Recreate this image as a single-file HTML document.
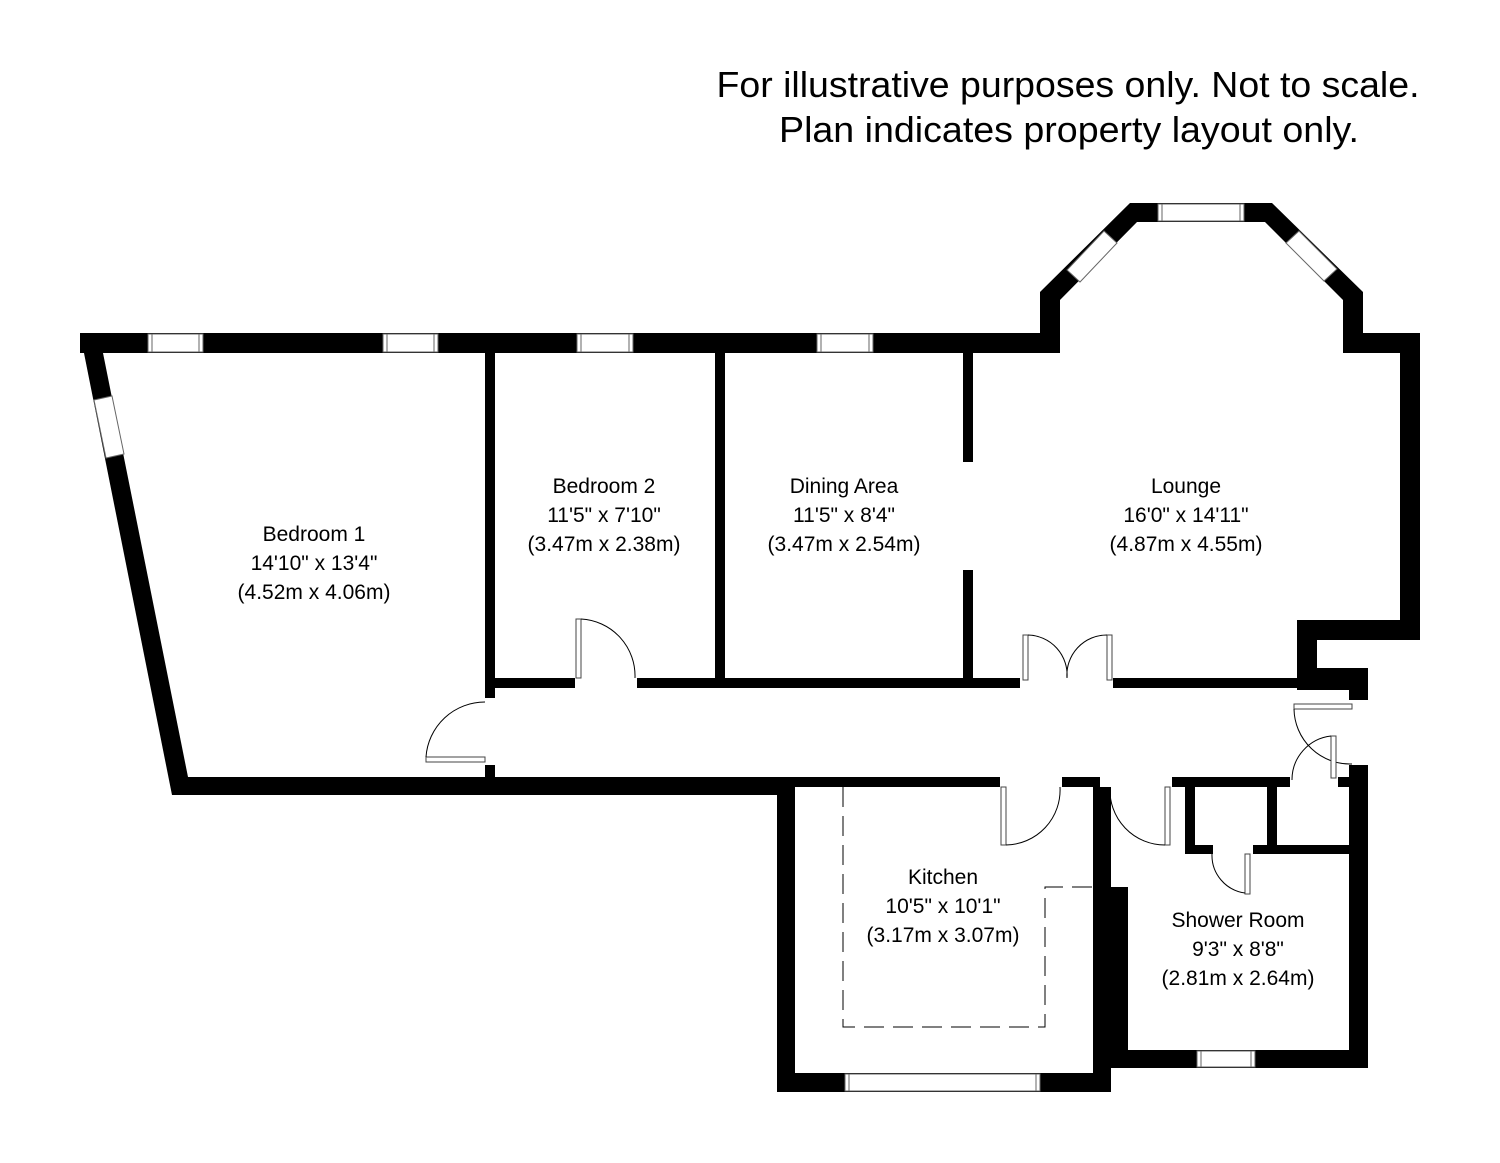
<!DOCTYPE html>
<html><head><meta charset="utf-8"><style>html,body{margin:0;padding:0;background:#fff}svg{display:block}</style></head>
<body>
<svg width="1500" height="1163" viewBox="0 0 1500 1163" xmlns="http://www.w3.org/2000/svg" font-family="Liberation Sans, Arial, sans-serif">
<rect width="1500" height="1163" fill="#fff"/>
<text x="1068" y="97" font-size="36" text-anchor="middle" textLength="703" lengthAdjust="spacingAndGlyphs">For illustrative purposes only. Not to scale.</text>
<text x="1069" y="142" font-size="36" text-anchor="middle" textLength="580" lengthAdjust="spacingAndGlyphs">Plan indicates property layout only.</text>
<g fill="#000">
<rect x="80" y="333" width="980" height="20"/>
<polygon points="80,333 103,353 188,777 172,795"/>
<polygon points="80,333 103,333 103,353"/>
<rect x="172" y="777" width="623" height="18"/>
<rect x="777" y="777" width="18" height="315"/>
<rect x="777" y="1073" width="334" height="19"/>
<rect x="1093" y="787" width="18" height="305"/>
<rect x="1100" y="887" width="28" height="163"/>
<rect x="1110" y="1050" width="255" height="18"/>
<rect x="1349" y="765" width="19" height="303"/>
<rect x="795" y="777" width="205" height="10"/>
<rect x="1062" y="777" width="38" height="10"/>
<rect x="1172" y="777" width="118" height="10"/>
<rect x="1338" y="777" width="30" height="10"/>
<rect x="1185" y="787" width="10" height="66"/>
<rect x="1267" y="787" width="10" height="60"/>
<rect x="1185" y="845" width="28" height="9"/>
<rect x="1253" y="845" width="97" height="9"/>
<rect x="485" y="353" width="10" height="345"/>
<rect x="485" y="765" width="10" height="12"/>
<rect x="715" y="353" width="10" height="325"/>
<rect x="963" y="353" width="10" height="109"/>
<rect x="963" y="570" width="10" height="108"/>
<rect x="495" y="678" width="80" height="10"/>
<rect x="637" y="678" width="383" height="10"/>
<rect x="1113" y="678" width="187" height="10"/>
<polygon points="1040,353 1040,292 1130,203 1272,203 1363,292 1363,333 1420,333 1420,640 1317,640 1317,668 1368,668 1368,700 1349,700 1349,690 1297,690 1297,620 1400,620 1400,353 1343,353 1343,300 1265,222 1137,222 1060,300 1060,353"/>
</g>
<g fill="#fff" stroke="#666" stroke-width="1">
<rect x="148" y="334" width="55" height="18"/><line x1="152" y1="334" x2="152" y2="352"/><line x1="199" y1="334" x2="199" y2="352"/>
<rect x="383" y="334" width="55" height="18"/><line x1="387" y1="334" x2="387" y2="352"/><line x1="434" y1="334" x2="434" y2="352"/>
<rect x="577" y="334" width="56" height="18"/><line x1="581" y1="334" x2="581" y2="352"/><line x1="629" y1="334" x2="629" y2="352"/>
<rect x="817" y="334" width="56" height="18"/><line x1="821" y1="334" x2="821" y2="352"/><line x1="869" y1="334" x2="869" y2="352"/>
<rect x="1158" y="204" width="86" height="17"/><line x1="1162" y1="204" x2="1162" y2="221"/><line x1="1240" y1="204" x2="1240" y2="221"/>
<polygon points="94,400 112,396 124,454 106,458"/>
<polygon points="1067,270 1104,231 1117,243 1080,282"/>
<polygon points="1286,243 1299,231 1337,269 1324,281"/>
<rect x="845" y="1074" width="195" height="17"/><line x1="849" y1="1074" x2="849" y2="1091"/><line x1="1036" y1="1074" x2="1036" y2="1091"/>
<rect x="1197" y="1051" width="58" height="16"/><line x1="1201" y1="1051" x2="1201" y2="1067"/><line x1="1251" y1="1051" x2="1251" y2="1067"/>
</g>
<g fill="none" stroke="#000" stroke-width="1">
<rect x="576" y="619" width="5" height="59" fill="#fff" stroke="#444"/>
<path d="M581,619 A57,57 0 0 1 635,678"/>
<rect x="426" y="757" width="59" height="5" fill="#fff" stroke="#444"/>
<path d="M426,757 A59,59 0 0 1 485,702"/>
<rect x="1023" y="635" width="5" height="45" fill="#fff" stroke="#444"/>
<path d="M1028,635 A40,40 0 0 1 1067,678"/>
<rect x="1107" y="635" width="5" height="45" fill="#fff" stroke="#444"/>
<path d="M1107,635 A40,40 0 0 0 1067,678"/>
<rect x="1001" y="787" width="5" height="58" fill="#fff" stroke="#444"/>
<path d="M1006,845 A55,55 0 0 0 1060,787"/>
<rect x="1165" y="787" width="5" height="58" fill="#fff" stroke="#444"/>
<path d="M1165,845 A55,55 0 0 1 1110,787"/>
<rect x="1294" y="704" width="58" height="5" fill="#fff" stroke="#444"/>
<path d="M1294,709 A56,56 0 0 0 1352,764"/>
<rect x="1331" y="736" width="5" height="42" fill="#fff" stroke="#444"/>
<path d="M1331,736 A44,44 0 0 0 1292,780"/>
<rect x="1245" y="854" width="5" height="40" fill="#fff" stroke="#444"/>
<path d="M1245,893 A38,38 0 0 1 1212,854"/>
</g>
<path d="M843,787 V1027 H1045 V887 H1093" fill="none" stroke="#000" stroke-width="1" stroke-dasharray="20,9"/>
<g font-size="21" text-anchor="middle" fill="#000">
<text x="314" y="541">Bedroom 1</text><text x="314" y="570">14'10" x 13'4"</text><text x="314" y="599">(4.52m x 4.06m)</text>
<text x="604" y="493">Bedroom 2</text><text x="604" y="522">11'5" x 7'10"</text><text x="604" y="551">(3.47m x 2.38m)</text>
<text x="844" y="493">Dining Area</text><text x="844" y="522">11'5" x 8'4"</text><text x="844" y="551">(3.47m x 2.54m)</text>
<text x="1186" y="493">Lounge</text><text x="1186" y="522">16'0" x 14'11"</text><text x="1186" y="551">(4.87m x 4.55m)</text>
<text x="943" y="884">Kitchen</text><text x="943" y="913">10'5" x 10'1"</text><text x="943" y="942">(3.17m x 3.07m)</text>
<text x="1238" y="927">Shower Room</text><text x="1238" y="956">9'3" x 8'8"</text><text x="1238" y="985">(2.81m x 2.64m)</text>
</g>
</svg>
</body></html>
